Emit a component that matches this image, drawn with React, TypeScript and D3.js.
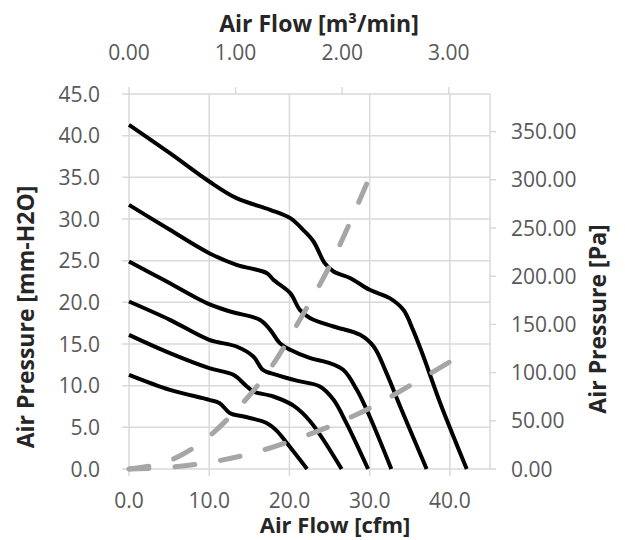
import React from "react";
import * as d3 from "d3";

const xTicks = [0, 10, 20, 30, 40];
const yTicks = [0, 5, 10, 15, 20, 25, 30, 35, 40, 45];
const topTicks = [0, 1, 2, 3];
const rightTicks = [0, 50, 100, 150, 200, 250, 300, 350];

const c1x = [0, 5.1, 10, 13.4, 17.6, 20.1, 21.7, 23, 24.4, 25.5, 27.6, 30, 32.5, 34.2, 35.4, 36.7, 38.8, 42.1];
const c1y = [41.3, 37.9, 34.5, 32.5, 31.1, 30.1, 28.7, 27.3, 24.7, 23.7, 22.9, 21.5, 20.5, 19.1, 16.7, 13.5, 7.9, 0];
const c2x = [0, 5.1, 10, 13.4, 17.2, 18, 20.1, 21.3, 22.6, 25.5, 28.8, 30.5, 32.1, 33.8, 37.1];
const c2y = [31.7, 28.7, 25.9, 24.5, 23.5, 22.7, 21.1, 19.1, 18.1, 17.1, 16.1, 14.7, 11.5, 7.5, 0];
const c3x = [0, 4.3, 9.7, 12.6, 16.3, 17.6, 18.8, 20.1, 22.6, 24.7, 26.7, 28.4, 30, 32.7];
const c3y = [24.9, 22.7, 19.9, 18.9, 17.9, 16.7, 15.1, 14.3, 13.3, 12.8, 11.9, 9.5, 6.3, 0];
const c4x = [0, 5.1, 10, 13.4, 15.5, 16.7, 18.4, 20.9, 23.8, 25.5, 27.1, 29.8];
const c4y = [20.1, 17.9, 15.5, 14.7, 13.5, 11.9, 11.3, 10.6, 9.9, 8.3, 5.5, 0];
const c5x = [0, 5.1, 10, 13, 14.7, 15.5, 18, 20.5, 22.6, 26.5];
const c5y = [16.1, 13.9, 12.1, 11.3, 9.9, 9.3, 8.7, 7.6, 5.7, 0];
const c6x = [0, 5.1, 10, 11.3, 12.6, 14.3, 17.2, 18.4, 19.6, 22.2];
const c6y = [11.3, 9.5, 8.3, 7.9, 6.7, 6.3, 5.5, 4.6, 3.2, 0];

const steepX = [0, 4.5, 8.9, 13, 17.2, 21.3, 25.5, 30.1];
const steepY = [0, 0.8, 3.1, 6.7, 11.5, 17.9, 25.3, 35.3];
const shallowX = [0, 5, 10, 15, 20, 25, 30, 35, 41.1];
const shallowY = [0, 0.2, 0.8, 1.8, 3.3, 5.1, 7.3, 10.0, 13.5];

const fanCurves = [
  [c1x, c1y],
  [c2x, c2y],
  [c3x, c3y],
  [c4x, c4y],
  [c5x, c5y],
  [c6x, c6y],
];
const systemCurves = [
  [steepX, steepY],
  [shallowX, shallowY],
];

const L = 129, R = 490, T = 94, B = 469;
const FONT = "'Open Sans', 'DejaVu Sans', sans-serif";

export default function App() {
  const x = d3.scaleLinear().domain([0, 45]).range([L, R]);
  const y = d3.scaleLinear().domain([0, 45]).range([B, T]);
  const xTop = d3.scaleLinear().domain([0, 3.387]).range([L, R]);
  const yRight = d3.scaleLinear().domain([0, 389]).range([B, T]);

  const line = (xs: number[], ys: number[]) =>
    d3
      .line<number>()
      .x((_, i) => x(xs[i]))
      .y((_, i) => y(ys[i]))
      .curve(d3.curveCatmullRom.alpha(0.5))(xs.map((v) => v)) || "";

  const grid = "#d9d9d9";
  const tickColor = "#595959";

  return (
    <svg width={625} height={540} style={{ position: "absolute", left: 0, top: 0, background: "#fff" }}>
      <rect x={0} y={0} width={625} height={540} fill="#fff" />
      {/* grid */}
      {yTicks.map((t) => (
        <line key={"gy" + t} x1={L - 7} x2={R} y1={y(t)} y2={y(t)} stroke={grid} strokeWidth={1.5} />
      ))}
      {xTicks.map((t) => (
        <line key={"gx" + t} x1={x(t)} x2={x(t)} y1={T} y2={B + 7} stroke={grid} strokeWidth={1.5} />
      ))}
      <line x1={R} x2={R} y1={T} y2={B} stroke={grid} strokeWidth={1.5} />
      {topTicks.map((t) => (
        <line key={"tt" + t} x1={xTop(t)} x2={xTop(t)} y1={T - 7} y2={T} stroke={grid} strokeWidth={1.5} />
      ))}
      {rightTicks.map((t) => (
        <line key={"rt" + t} x1={R} x2={R + 6} y1={yRight(t)} y2={yRight(t)} stroke={grid} strokeWidth={1.5} />
      ))}

      {/* fan curves */}
      {fanCurves.map(([xs, ys], i) => (
        <path key={"c" + i} d={line(xs, ys)} fill="none" stroke="#000" strokeWidth={4} strokeLinejoin="round" />
      ))}
      {/* system curves */}
      {systemCurves.map(([xs, ys], i) => (
        <path
          key={"s" + i}
          d={line(xs, ys)}
          fill="none"
          stroke="#a6a6a6"
          strokeWidth={5}
          strokeDasharray="20 26"
          strokeLinecap="round"
        />
      ))}

      {/* tick labels */}
      <g fontFamily={FONT} fontSize={21} fill={tickColor}>
        {yTicks.map((t) => (
          <text key={"ly" + t} x={100} y={y(t)} dy="0.36em" textAnchor="end">
            {t.toFixed(1)}
          </text>
        ))}
        {xTicks.map((t) => (
          <text key={"lx" + t} x={x(t)} y={508} textAnchor="middle">
            {t.toFixed(1)}
          </text>
        ))}
        {topTicks.map((t) => (
          <text key={"lt" + t} x={xTop(t)} y={60} textAnchor="middle">
            {t.toFixed(2)}
          </text>
        ))}
        {rightTicks.map((t) => (
          <text key={"lr" + t} x={511} y={yRight(t)} dy="0.36em" textAnchor="start">
            {t.toFixed(2)}
          </text>
        ))}
      </g>

      {/* titles */}
      <g fontFamily={FONT} fontWeight="bold" fill="#262626">
        <text x={319} y={32} textAnchor="middle" fontSize={23}>
          Air Flow [m³/min]
        </text>
        <text x={335} y={533} textAnchor="middle" fontSize={22}>
          Air Flow [cfm]
        </text>
        <text transform="translate(34,317) rotate(-90)" textAnchor="middle" fontSize={23}>
          Air Pressure [mm-H2O]
        </text>
        <text transform="translate(606,319) rotate(-90)" textAnchor="middle" fontSize={23}>
          Air Pressure [Pa]
        </text>
      </g>
    </svg>
  );
}
